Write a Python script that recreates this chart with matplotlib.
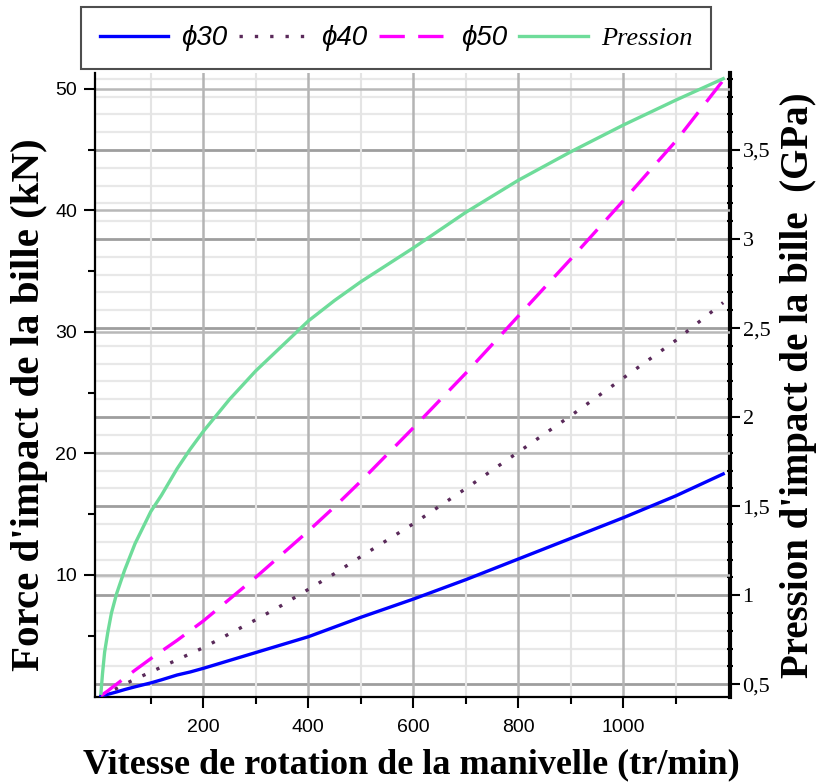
import numpy as np
import matplotlib
matplotlib.use("Agg")
import matplotlib.pyplot as plt
from matplotlib.ticker import FixedLocator, FuncFormatter

# Crank rotation speed (tr/min)
speed = [5, 8, 12, 18, 25, 35, 50, 70, 100, 120, 150, 175, 200, 250, 300,
         350, 400, 450, 500, 600, 700, 800, 900, 1000, 1100, 1190]

# Ball impact force (kN) for the three ball diameters
force_d30 = [0.03, 0.06, 0.10, 0.16, 0.24, 0.36, 0.55, 0.78, 1.1, 1.35, 1.75,
             2.0, 2.3, 2.95, 3.6, 4.25, 4.9, 5.7, 6.5, 8.0, 9.6, 11.3, 13.0,
             14.7, 16.5, 18.3]
force_d40 = [0.05, 0.10, 0.17, 0.29, 0.43, 0.65, 1.0, 1.4, 2.0, 2.4, 3.0,
             3.5, 4.0, 5.15, 6.3, 7.5, 8.8, 10.1, 11.5, 14.2, 17.1, 20.1,
             23.1, 26.2, 29.3, 32.4]
force_d50 = [0.08, 0.15, 0.26, 0.44, 0.68, 1.0, 1.5, 2.15, 3.1, 3.7, 4.6,
             5.4, 6.2, 8.0, 9.8, 11.7, 13.6, 15.6, 17.7, 22.1, 26.6, 31.3,
             36.0, 40.8, 45.7, 50.7]

# Ball impact pressure (GPa)
pressure = [0.45, 0.56, 0.68, 0.79, 0.90, 1.01, 1.14, 1.29, 1.47, 1.56, 1.71,
            1.82, 1.92, 2.10, 2.26, 2.40, 2.54, 2.655, 2.76, 2.95, 3.15, 3.33,
            3.49, 3.64, 3.78, 3.90]

labels = ["\u03d530", "\u03d540", "\u03d550", "Pression"]

x_major = [200, 400, 600, 800, 1000]
x_minor = [100, 300, 500, 700, 900, 1100]
f_major = [10, 20, 30, 40, 50]
f_minor = [5, 15, 25, 35, 45]
p_major = [0.5, 1.0, 1.5, 2.0, 2.5, 3.0, 3.5]
p_minor = [round(0.4 + 0.1 * i, 1) for i in range(0, 36)]
p_minor = [p for p in p_minor if p not in p_major]

W, H = 817, 783
fig = plt.figure(figsize=(W / 100, H / 100), dpi=100, facecolor="white")
ax = fig.add_axes([95 / W, 86 / H, 635 / W, 624 / H])
ax2 = ax.twinx()
# force axis drawn above the pressure axis so its curves sit over every grid line
ax.set_zorder(3)
ax2.set_zorder(1)
ax.patch.set_visible(False)
ax2.patch.set_visible(True)
ax2.patch.set_facecolor("white")

ax.set_xlim(-6.3, 1203)
ax.set_ylim(-0.06, 51.3)
ax2.set_ylim(0.4285, 3.932)

# grid: pressure lines on the right axis (behind), speed/force lines on the left axis
for p in p_minor:
    ax2.axhline(p, color="#e8e8e8", lw=1.6, zorder=0)
for p in p_major:
    ax2.axhline(p, color="#9e9e9e", lw=2.0, zorder=0.5)
for xv in x_minor:
    ax.axvline(xv, color="#e4e4e4", lw=1.5, zorder=0)
for xv in x_major:
    ax.axvline(xv, color="#b4b4b4", lw=1.8, zorder=0.4)
for fv in f_major:
    ax.axhline(fv, color="#b8b8b8", lw=1.8, zorder=0.4)

lw = 2.4
l1, = ax.plot(speed, force_d30, color="#0000ff", lw=lw, zorder=3)
l2, = ax.plot(speed, force_d40, color="#5a2a5a", lw=lw, linestyle=(0, (1.0, 3.6)),
              dash_capstyle="butt", zorder=3)
l3, = ax.plot(speed, force_d50, color="#ff00ff", lw=lw, linestyle=(0, (7.6, 4.0)),
              dash_capstyle="butt", zorder=3)
l4, = ax.plot(speed, pressure, color="#6edc9a", lw=lw, transform=ax2.transData, zorder=3)

# spines
ax.spines["top"].set_visible(False)
ax2.spines["top"].set_visible(False)
ax.spines["right"].set_visible(False)
ax2.spines["left"].set_visible(False)
ax2.spines["bottom"].set_visible(False)
ax.spines["left"].set_linewidth(1.6)
ax.spines["bottom"].set_linewidth(1.6)
ax2.spines["right"].set_linewidth(3.0)

# ticks
ax.xaxis.set_major_locator(FixedLocator(x_major))
ax.xaxis.set_minor_locator(FixedLocator(x_minor))
ax.yaxis.set_major_locator(FixedLocator(f_major))
ax.yaxis.set_minor_locator(FixedLocator(f_minor))
ax2.yaxis.set_major_locator(FixedLocator(p_major))
ax2.yaxis.set_minor_locator(FixedLocator(p_minor))
ax2.yaxis.set_major_formatter(FuncFormatter(lambda v, pos: f"{v:g}".replace(".", ",")))

ax.tick_params(axis="x", which="major", direction="out", length=8, width=1.5,
               pad=8, labelsize=14)
ax.tick_params(axis="x", which="minor", direction="out", length=5, width=1.5)
ax.tick_params(axis="y", which="major", direction="out", length=8, width=1.5,
               pad=5, labelsize=14)
ax.tick_params(axis="y", which="minor", direction="out", length=5, width=1.5)
ax2.tick_params(axis="y", which="major", direction="out", length=7, width=1.5,
                pad=2, labelsize=16)
ax2.tick_params(axis="y", which="minor", direction="inout", length=5, width=1.5)
for t in ax.get_xticklabels() + ax.get_yticklabels():
    t.set_fontfamily("Liberation Sans")
for t in ax2.get_yticklabels():
    t.set_fontfamily("Liberation Serif")

ax.set_xlabel("Vitesse de rotation de la manivelle (tr/min)",
              family="Liberation Serif", weight="bold", size=26)
ax.xaxis.set_label_coords(0.499, -0.109)
ax.xaxis.label.set_va("center")
ax.set_ylabel("Force d'impact de la bille (kN)",
              family="Liberation Serif", weight="bold", size=29.5)
ax.yaxis.set_label_coords(-0.103, 0.468)
ax.yaxis.label.set_va("center")
ax2.set_ylabel("Pression d'impact de la bille  (GPa)",
               family="Liberation Serif", weight="bold", size=28)
ax2.yaxis.set_label_coords(1.108, 0.50)
ax2.yaxis.label.set_va("center")

leg = fig.legend([l1, l2, l3, l4], labels, loc="center",
                 bbox_to_anchor=(396 / W, 1 - 38 / H), ncol=4, fontsize=19,
                 frameon=True, fancybox=False, edgecolor="#222222",
                 handlelength=2.6, handletextpad=0.5, columnspacing=0.45,
                 borderpad=0.7, borderaxespad=0)
leg.get_frame().set_linewidth(1.5)
for t in leg.get_texts()[:3]:
    t.set_fontfamily(["Liberation Sans", "DejaVu Sans"])
    t.set_fontstyle("italic")
    t.set_fontsize(20)
tp = leg.get_texts()[3]
tp.set_fontfamily("Liberation Serif")
tp.set_fontstyle("italic")
tp.set_fontsize(19)

fig.savefig("out.png", dpi=100, facecolor="white")
